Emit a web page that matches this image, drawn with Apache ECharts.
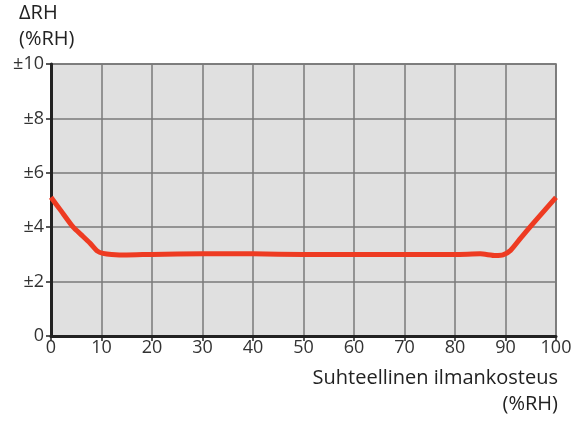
<!DOCTYPE html>
<html>
<head>
<meta charset="utf-8">
<script src="https://cdn.jsdelivr.net/npm/echarts@6/dist/echarts.min.js"></script>
<style>
html,body{margin:0;padding:0;background:#fff;}
#chart{width:579px;height:423px;}
</style>
</head>
<body>
<div id="chart"></div>
<script>
// Relative humidity (%RH) against measurement accuracy (±%RH)
const humidity = [0, 2, 4.4, 6, 7.7, 9.2, 10.3, 12, 15, 20, 30, 40, 50, 60, 70, 80, 85, 88, 89.5, 91, 93, 96, 100];
const accuracy = [5.1, 4.6, 4.0, 3.72, 3.42, 3.12, 3.04, 3.0, 2.98, 3.0, 3.02, 3.02, 3.0, 3.0, 3.0, 3.0, 3.02, 2.96, 2.98, 3.15, 3.6, 4.25, 5.1];
const yTicks = {0: '0', 2: '±2', 4: '±4', 6: '±6', 8: '±8', 10: '±10'};

const font = 'Open Sans';
const chart = echarts.init(document.getElementById('chart'), null, {renderer: 'canvas'});
chart.setOption({
  animation: false,
  grid: {left: 51, right: 23, top: 64, bottom: 87, show: true, backgroundColor: '#e0e0e0', borderColor: '#666', borderWidth: 1.5},
  graphic: [
    {type: 'text', left: 19, top: 3, style: {text: 'ΔRH', font: '20px "' + font + '"', fill: '#222'}},
    {type: 'text', left: 19, top: 29, style: {text: '(%RH)', font: '20px "' + font + '"', fill: '#222'}},
    {type: 'text', right: 21, top: 368, style: {text: 'Suhteellinen ilmankosteus', font: '20px "' + font + '"', fill: '#222', align: 'right'}},
    {type: 'text', right: 21, top: 394, style: {text: '(%RH)', font: '20px "' + font + '"', fill: '#222', align: 'right'}}
  ],
  xAxis: {
    type: 'value', min: 0, max: 100, interval: 10,
    axisLine: {lineStyle: {color: '#222', width: 3}},
    axisTick: {show: true, length: 5, lineStyle: {color: '#222', width: 1.5}},
    axisLabel: {color: '#333', fontSize: 18, fontFamily: font, margin: 3},
    splitLine: {show: true, lineStyle: {color: '#7a7a7a', width: 1.5}}
  },
  yAxis: {
    type: 'value', min: 0, max: 10, interval: 2,
    axisLine: {show: true, lineStyle: {color: '#222', width: 3}},
    axisTick: {show: true, length: 5, lineStyle: {color: '#222', width: 1.5}},
    axisLabel: {color: '#333', fontSize: 18, fontFamily: font, margin: 7, formatter: v => yTicks[v]},
    splitLine: {show: true, lineStyle: {color: '#7a7a7a', width: 1.5}}
  },
  series: [{
    type: 'line', smooth: 0.2, symbol: 'none',
    data: humidity.map((h, i) => [h, accuracy[i]]),
    lineStyle: {color: '#ee3b22', width: 5}
  }]
});
</script>
</body>
</html>
